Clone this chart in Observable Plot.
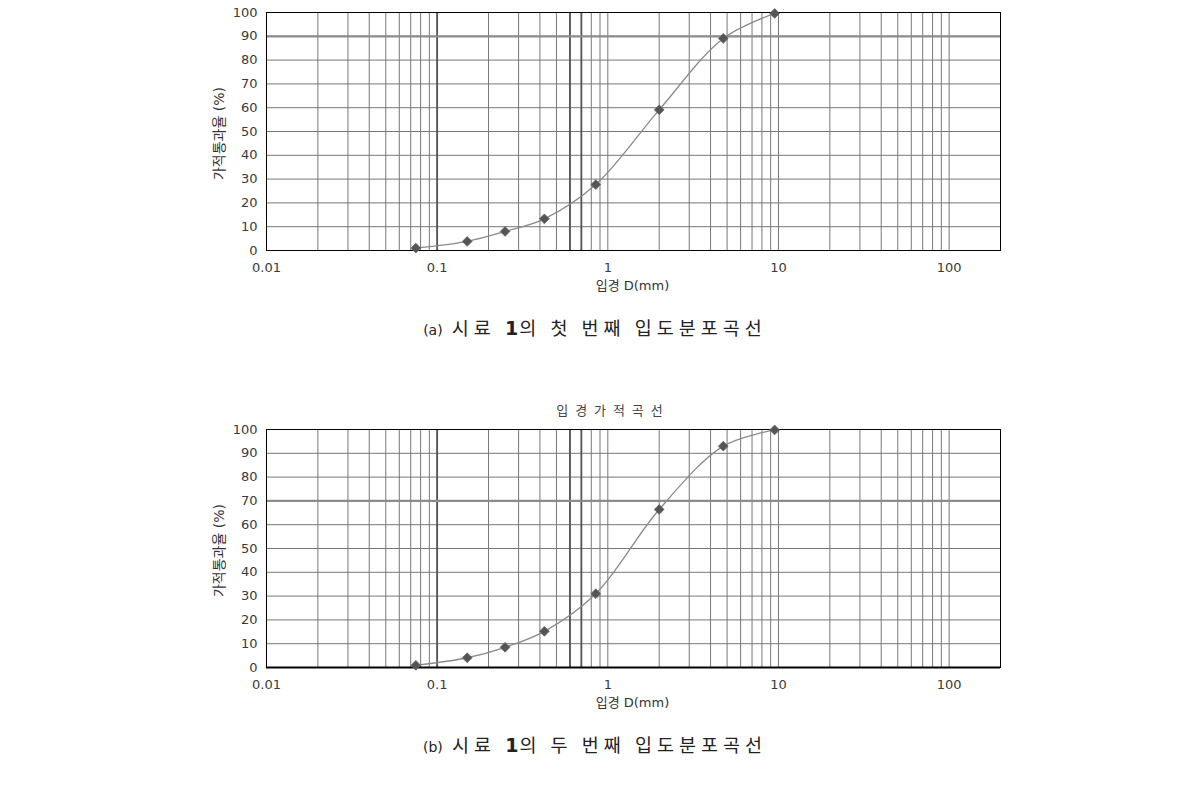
<!DOCTYPE html>
<html>
<head>
<meta charset="utf-8">
<script src="https://cdn.jsdelivr.net/npm/d3@7"></script>
<script src="https://cdn.jsdelivr.net/npm/@observablehq/plot@0.6"></script>
<style>
  html, body { margin: 0; padding: 0; background: #fff; }
  #page { position: relative; width: 1190px; height: 788px; overflow: hidden; background: #fff; }
  .chart { position: absolute; left: 0; }
  .caption { position: absolute; left: 0; width: 1190px; text-align: center; color: #222;
             font-family: "Noto Sans CJK KR", sans-serif; font-size: 18.5px; letter-spacing: 5px; white-space: pre; }
  .caption .tag { font-family: "DejaVu Sans", sans-serif; font-size: 14px; letter-spacing: 0; }
  .caption .num { font-family: "DejaVu Sans", sans-serif; font-weight: bold; font-size: 19px; letter-spacing: 1px; }
</style>
</head>
<body>
<div id="page">
  <div id="c1" class="chart" style="top:0px"></div>
  <div class="caption" style="top:314px"><span class="tag">(a)</span> 시료 <span class="num">1</span>의 첫 번째 입도분포곡선</div>
  <div id="c2" class="chart" style="top:390px"></div>
  <div class="caption" style="top:731px"><span class="tag">(b)</span> 시료 <span class="num">1</span>의 두 번째 입도분포곡선</div>
</div>
<script>
// ---- data ----
const sieveSizes = [0.075, 0.15, 0.25, 0.425, 0.85, 2.0, 4.75, 9.5];   // 입경 D (mm)
const passing1 = [1.0, 3.8, 8.0, 13.3, 27.7, 59.1, 89.1, 99.6];         // 시료 1 첫 번째 (%)
const passing2 = [0.9, 4.1, 8.5, 15.2, 31.0, 66.4, 93.0, 99.8];         // 시료 1 두 번째 (%)
const xTickLabels = [0.01, 0.1, 1, 10, 100];
const yTickLabels = [0, 10, 20, 30, 40, 50, 60, 70, 80, 90, 100];
const chartTitle = "입 경 가 적 곡 선";
const xLabel = "입경 D(mm)";
const yLabel = "가적통과율 (%)";

const xDomain = [0.01, 200];
const gridTicks = d3.scaleLog().domain(xDomain).ticks(); // log minor gridlines

function makeChart(values, opts) {
  const data = sieveSizes.map((d, i) => ({d, p: values[i]}));
  const svg = Plot.plot({
    width: 1190,
    height: opts.height,
    marginLeft: 266,
    marginRight: 190,
    marginTop: opts.marginTop,
    marginBottom: opts.height - opts.marginTop - 238,
    style: {fontFamily: "'DejaVu Sans', 'Noto Sans CJK KR', sans-serif", fontSize: "13px", color: "#3a3a3a", background: "white"},
    x: {type: "log", domain: xDomain},
    y: {domain: [0, 100]},
    marks: [
      Plot.ruleX(gridTicks, {stroke: "#777", strokeWidth: 1, strokeOpacity: 1}),
      Plot.ruleY(yTickLabels, {stroke: "#777", strokeWidth: 1, strokeOpacity: 1}),
      Plot.ruleX([0.1, 0.6, 0.7], {stroke: "#555", strokeWidth: 1.8}),
      Plot.ruleY([opts.emphY], {stroke: "#8c8c8c", strokeWidth: 2.2}),
      Plot.axisX({ticks: xTickLabels, tickFormat: d => String(d), tickSize: 0, tickPadding: 12, label: null, fontSize: 13}),
      Plot.axisY({ticks: yTickLabels, tickSize: 0, tickPadding: 9, label: null, fontSize: 13}),
      Plot.frame({stroke: "black", strokeWidth: 1}),
      Plot.ruleY([0], {stroke: "black", strokeWidth: opts.bottomWidth}),
      Plot.line(data, {x: "d", y: "p", curve: "catmull-rom", stroke: "#8a8a8a", strokeWidth: 1.3}),
      Plot.dot(data, {x: "d", y: "p", symbol: "diamond2", r: 4.4, fill: "#555", stroke: "#666", strokeWidth: 0.8}),
      Plot.text([chartTitle], {frameAnchor: "top", dx: -23, dy: -19, lineAnchor: "middle", textAnchor: "middle", fontSize: 13, fill: "#444", fontFamily: "'Noto Sans CJK KR', sans-serif"}),
      Plot.text([xLabel], {frameAnchor: "bottom", dx: -1, dy: 35, lineAnchor: "middle", textAnchor: "middle", fontSize: 13, fill: "#333"}),
      Plot.text([yLabel], {frameAnchor: "left", dx: -47, dy: 2, rotate: -90, lineAnchor: "middle", textAnchor: "middle", fontSize: 14, fill: "#333"})
    ]
  });
  d3.select(svg).selectAll("text").filter(function() { return this.textContent === chartTitle; })
    .style("letter-spacing", "2px");
  return svg;
}

document.getElementById("c1").appendChild(makeChart(passing1, {height: 300, marginTop: 12, emphY: 90, bottomWidth: 1.2}));
document.getElementById("c2").appendChild(makeChart(passing2, {height: 327, marginTop: 39, emphY: 70, bottomWidth: 2.2}));
</script>
</body>
</html>
